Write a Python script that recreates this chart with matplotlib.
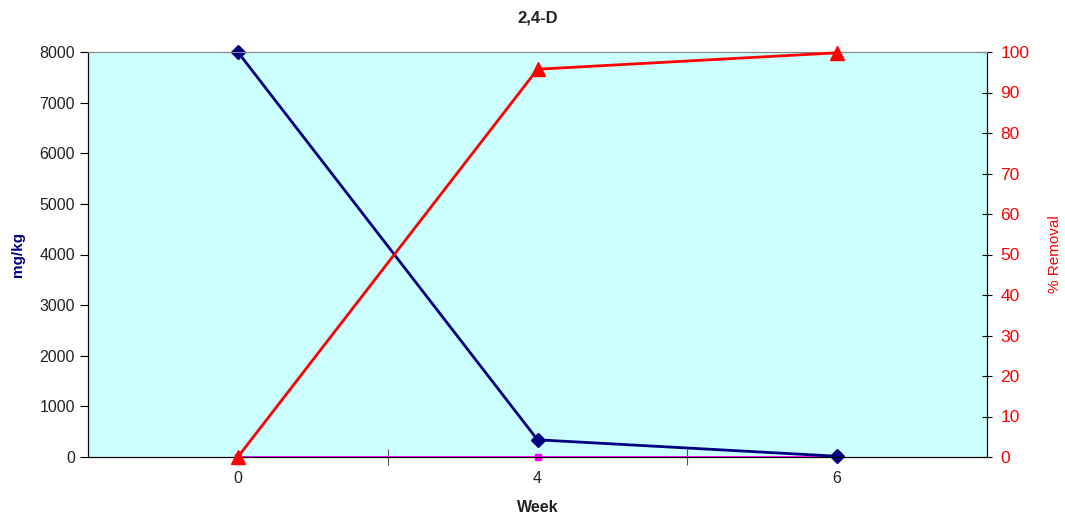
import matplotlib.pyplot as plt
import numpy as np

plt.rcParams['font.family'] = ['Liberation Sans', 'DejaVu Sans']

# data
weeks = ['0', '4', '6']
conc = [8000, 340, 15]          # mg/kg
conc2 = [0, 0, 0]               # second series on left axis
removal = [0, 95.75, 99.8]      # % removal

x = np.arange(len(weeks))

fig = plt.figure(figsize=(10.65, 5.22), dpi=100)
ax = fig.add_axes([88/1065, 1-457/522, (987-88)/1065, (457-52)/522])
ax.set_facecolor('#ccffff')

ax.plot(x, conc2, color='#ff00ff', lw=1.3, marker='s', ms=5, zorder=3, clip_on=False)
ax.plot(x, conc, color='#000080', lw=2, marker='D', ms=7, zorder=4, clip_on=False)
ax.set_ylim(0, 8000)
ax.set_xlim(-0.5, 2.5)
ax.set_yticks(np.arange(0, 8001, 1000))
ax.set_xticks([0.5, 1.5])
ax.set_xticklabels([])
ax.set_xticks(x, minor=True)
ax.set_xticklabels(weeks, minor=True)
ax.tick_params(axis='x', which='minor', length=0, pad=10, labelsize=11.5, colors='#222222')
ax.tick_params(axis='x', which='major', length=12, direction='inout', color='#555555')
ax.tick_params(axis='y', length=6, direction='out', labelsize=11.5, labelcolor='#222222')

ax.set_ylabel('mg/kg', color='#000080', fontweight='bold', fontsize=11, va='center')
ax.yaxis.set_label_coords((18 - 88) / 899, 0.5)
ax.set_xlabel('Week', fontweight='bold', fontsize=11.5, color='#222222', va='center')
ax.xaxis.set_label_coords(0.5, -(508 - 457) / 405)
fig.text(538/1065, 1 - 18/522, '2,4-D', fontweight='bold', fontsize=12,
         color='#222222', ha='center', va='center')

ax2 = ax.twinx()
ax2.plot(x, removal, color='#ff0000', lw=2, marker='^', ms=10, zorder=5, clip_on=False)
ax2.set_ylim(0, 100)
ax2.set_yticks(np.arange(0, 101, 10))
ax2.tick_params(axis='y', length=7, direction='inout', labelsize=12.5, labelcolor='#ff0000', pad=6)
ax2.set_ylabel('% Removal', color='#ff0000', fontsize=11, va='center')
ax2.yaxis.set_label_coords((1055 - 88) / 899, 0.5)

for a in (ax, ax2):
    a.spines['top'].set_color('#888888')
    a.spines['top'].set_linewidth(0.8)
ax.set_zorder(ax2.get_zorder() - 1)
ax2.patch.set_visible(False)

fig.savefig('out.png', dpi=100)
